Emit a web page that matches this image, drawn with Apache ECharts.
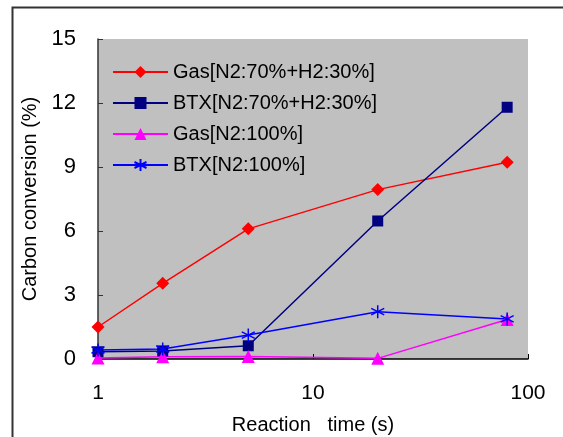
<!DOCTYPE html>
<html><head><meta charset="utf-8">
<script src="https://cdn.jsdelivr.net/npm/echarts@6/dist/echarts.min.js"></script>
<style>html,body{margin:0;padding:0;background:#fff}#c{width:563px;height:437px}</style>
</head><body><div id="c"></div>
<script>
var times = [1, 2, 5, 20, 80];
var gasH2 = [1.5, 3.55, 6.1, 7.94, 9.22];
var btxH2 = [0.34, 0.38, 0.62, 6.47, 11.8];
var gasN2 = [0.05, 0.1, 0.12, 0.03, 1.85];
var btxN2 = [0.42, 0.47, 1.12, 2.22, 1.88];
var seriesNames = ['Gas[N2:70%+H2:30%]', 'BTX[N2:70%+H2:30%]', 'Gas[N2:100%]', 'BTX[N2:100%]'];
var yTicks = [0, 3, 6, 9, 12, 15];
var xTicks = [1, 10, 100];

var FONT = "'Liberation Sans', Arial, sans-serif";
function pairs(v) { return times.map(function (t, i) { return [t, v[i]]; }); }
var star = 'path://M5,0L5,10M0.7,2.5L9.3,7.5M0.7,7.5L9.3,2.5';

var chart = echarts.init(document.getElementById('c'), null, {renderer: 'canvas'});
chart.setOption({
  animation: false,
  backgroundColor: '#fff',
  graphic: [{type: 'rect', shape: {x: 12.5, y: 7.5, width: 700, height: 600}, style: {fill: 'none', stroke: '#333', lineWidth: 2}, silent: true}],
  grid: {left: 98, top: 39, right: 35, bottom: 78, show: true, backgroundColor: '#C0C0C0', borderWidth: 0,
         containLabel: false, outerBoundsMode: 'none'},
  legend: {
    orient: 'vertical', left: 112, top: 62, padding: 0, itemWidth: 55, itemHeight: 15, itemGap: 11,
    textStyle: {fontFamily: FONT, fontSize: 20, color: '#000', lineHeight: 20},
    data: seriesNames
  },
  xAxis: {
    type: 'log', logBase: 10, min: xTicks[0], max: xTicks[xTicks.length - 1],
    name: 'Reaction   time (s)', nameLocation: 'middle', nameGap: 56,
    nameTextStyle: {fontFamily: FONT, fontSize: 20, color: '#000'},
    axisLine: {show: true, lineStyle: {color: '#000', width: 1.5}},
    axisTick: {show: true, inside: true, length: 5, lineStyle: {color: '#000'}},
    minorTick: {show: false}, splitLine: {show: false},
    axisLabel: {fontFamily: FONT, fontSize: 21, color: '#000', margin: 24}
  },
  yAxis: {
    type: 'value', min: yTicks[0], max: yTicks[yTicks.length - 1], interval: 3,
    name: 'Carbon conversion (%)', nameLocation: 'middle', nameGap: 58, nameRotate: 90,
    nameTextStyle: {fontFamily: FONT, fontSize: 20, color: '#000'},
    axisLine: {show: true, lineStyle: {color: '#333', width: 1.5}},
    axisTick: {show: true, inside: true, length: 5, lineStyle: {color: '#333'}},
    splitLine: {show: false},
    axisLabel: {fontFamily: FONT, fontSize: 22, color: '#000', margin: 22}
  },
  series: [
    {name: seriesNames[0], type: 'line', data: pairs(gasH2), symbol: 'diamond', symbolSize: 13,
     lineStyle: {color: '#FF0000', width: 1.5}, itemStyle: {color: '#FF0000'}},
    {name: seriesNames[1], type: 'line', data: pairs(btxH2), symbol: 'rect', symbolSize: 11,
     lineStyle: {color: '#000080', width: 1.5}, itemStyle: {color: '#000080'}},
    {name: seriesNames[2], type: 'line', data: pairs(gasN2), symbol: 'triangle', symbolSize: 13,
     lineStyle: {color: '#FF00FF', width: 1.5}, itemStyle: {color: '#FF00FF'}},
    {name: seriesNames[3], type: 'line', data: pairs(btxN2), symbol: star, symbolSize: 13,
     lineStyle: {color: '#0000FF', width: 1.5}, itemStyle: {color: 'rgba(0,0,0,0)', borderColor: '#0000FF', borderWidth: 1.5}}
  ]
});
</script></body></html>
